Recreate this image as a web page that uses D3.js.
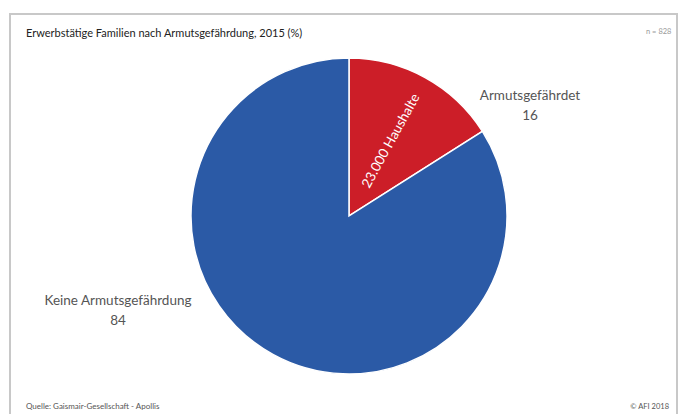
<!DOCTYPE html>
<html><head><meta charset="utf-8">
<script src="https://cdn.jsdelivr.net/npm/d3@7"></script>
<style>body{margin:0;background:#fff}svg{display:block}text{font-family:Lato,"Open Sans",sans-serif}</style>
</head><body>
<svg id="c" width="680" height="414"></svg>
<script>
const categories = ["Armutsgefährdet", "Keine Armutsgefährdung"];
const values = [16, 84];
const innerLabels = ["23.000 Haushalte", ""];
const colors = ["#cc1e28", "#2b5aa6"];
const title = "Erwerbstätige Familien nach Armutsgefährdung, 2015 (%)";
const note = "n = 828";
const source = "Quelle: Gaismair-Gesellschaft - Apollis";
const credit = "© AFI 2018";

const svg = d3.select("#c");
svg.append("rect").attr("x",10).attr("y",14).attr("width",667).attr("height",420)
  .attr("fill","#fff").attr("stroke","#c8c8c8").attr("stroke-width",2);
svg.append("text").attr("x",26).attr("y",37).attr("font-size",11).attr("fill","#222").text(title);
svg.append("text").attr("x",646).attr("y",34).attr("font-size",7.5).attr("fill","#999").text(note);
svg.append("text").attr("x",26).attr("y",409).attr("font-size",8).attr("fill","#555").text(source);
svg.append("text").attr("x",669).attr("y",409).attr("text-anchor","end").attr("font-size",7.5).attr("fill","#555").text(credit);

const cx = 349, cy = 216, r = 158;
const pie = d3.pie().sort(null).value(d => d);
const arcs = pie(values);
const arc = d3.arc().innerRadius(0).outerRadius(r);
const g = svg.append("g").attr("transform",`translate(${cx},${cy})`);
g.selectAll("path").data(arcs).join("path")
  .attr("d",arc).attr("fill",(d,i)=>colors[i]).attr("stroke","#fff").attr("stroke-width",1.5);

// inner rotated label along bisector
arcs.forEach((d,i)=>{
  if(!innerLabels[i]) return;
  const a = (d.startAngle+d.endAngle)/2;
  const rr = 86;
  const x = Math.sin(a)*rr, y = -Math.cos(a)*rr;
  const deg = a*180/Math.PI - 90;
  g.append("text").attr("transform",`translate(${x},${y}) rotate(${deg})`)
    .attr("text-anchor","middle").attr("dy","0.35em").attr("font-size",13.5).attr("fill","#fff").text(innerLabels[i]);
});

// outer labels
const labelPos = [[530,100],[118,305]];
arcs.forEach((d,i)=>{
  const t = svg.append("text").attr("x",labelPos[i][0]).attr("y",labelPos[i][1])
    .attr("text-anchor","middle").attr("font-size",13.5).attr("fill","#555");
  t.append("tspan").attr("x",labelPos[i][0]).text(categories[i]);
  t.append("tspan").attr("x",labelPos[i][0]).attr("dy",20).text(values[i]);
});
</script>
</body></html>
